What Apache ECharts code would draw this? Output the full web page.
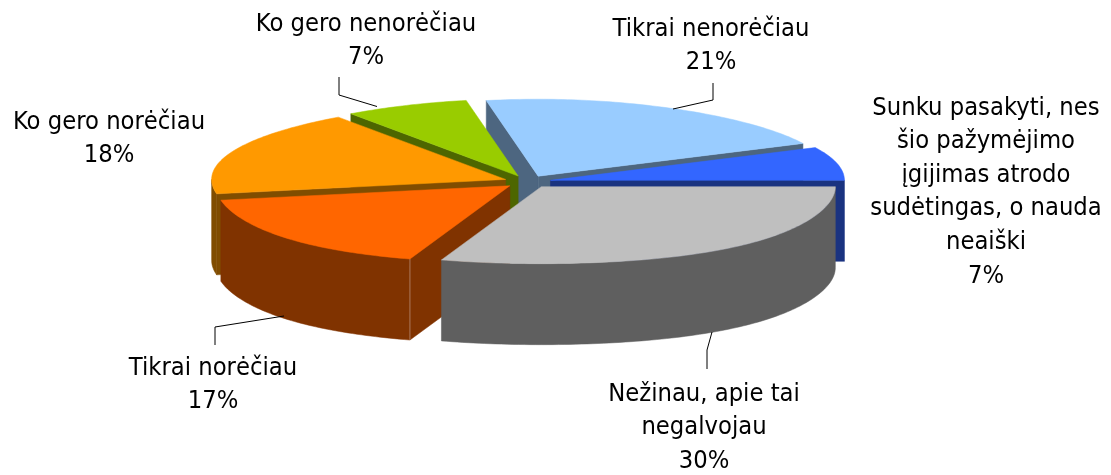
<!DOCTYPE html>
<html><head><meta charset="utf-8">
<style>html,body{margin:0;padding:0;background:#fff}#c{width:1111px;height:475px}</style>
<script src="https://cdn.jsdelivr.net/npm/echarts@6/dist/echarts.min.js"></script>
</head><body><div id="c"></div>
<script>
// Data: clockwise from the east point of the pie
const categories = ['Nežinau, apie tai\nnegalvojau', 'Tikrai norėčiau', 'Ko gero norėčiau', 'Ko gero nenorėčiau', 'Tikrai nenorėčiau', 'Sunku pasakyti, nes\nšio pažymėjimo\nįgijimas atrodo\nsudėtingas, o nauda\nneaiški'];
const values = [30, 17, 18, 7, 21, 7];
const topColors = ['#BFBFBF', '#FF6600', '#FF9900', '#99CC00', '#99CCFF', '#3366FF'];
const sideColors = ['#5F5F5F', '#803300', '#804D00', '#4D6600', '#4D6680', '#1A3380'];
const paintOrder = [4, 3, 2, 5, 1, 0]; // back to front
// Label layout: centre x, first-line centre y, leader polyline
const labelLayout = [
  { x: 704, y: 394, leader: [[712, 332], [707, 350], [707, 369]] },
  { x: 213, y: 368, leader: [[284, 316], [215, 327], [215, 345]] },
  { x: 109, y: 122, leader: null },
  { x: 366, y: 24, leader: [[377, 106.5], [339, 95], [339, 77]] },
  { x: 711, y: 29, leader: [[673, 109], [713, 100], [713, 83]] },
  { x: 986, y: 108, leader: null }
];
const FONT = '"DejaVu Sans Condensed","DejaVu Sans",sans-serif';
const FONT_SIZE = 25.3, LINE_H = 33.6;
const CX = 527.5, CY = 181.7, RX = 294, RY = 77, DEPTH = 81, EXPLODE = 0.08, START = 90;
const total = values.reduce((a, b) => a + b, 0);
const rad = d => d * Math.PI / 180;

function rim(deg) {
  const s = Math.sin(rad(deg)), c = Math.cos(rad(deg));
  const k = c < 0 ? 0.116 : 0.06;            // slight perspective
  return [RX * s * (1 - k * c * c * c), -RY * c];
}
function arcPoints(o, a0, a1, dy) {
  const pts = [], n = Math.max(2, Math.ceil(Math.abs(a1 - a0)));
  for (let i = 0; i <= n; i++) {
    const p = rim(a0 + (a1 - a0) * i / n);
    pts.push([o[0] + p[0], o[1] + p[1] + dy]);
  }
  return pts;
}
function poly(points, fill, z2) {
  return { type: 'polygon', shape: { points }, style: { fill, stroke: fill, lineWidth: 0.5 }, z2 };
}
function renderSlice(params, api) {
  const i = params.dataIndex, v = api.value(0);
  let before = 0;
  for (let j = 0; j < i; j++) before += values[j];
  const a0 = START + before / total * 360, a1 = a0 + v / total * 360, mid = rad((a0 + a1) / 2);
  const o = [CX + EXPLODE * RX * Math.sin(mid), CY - EXPLODE * RY * Math.cos(mid)];
  const z = paintOrder.indexOf(i) * 10;
  const side = sideColors[i], kids = [];
  const drop = p => [p[0], p[1] + DEPTH];
  const n0 = ((a0 % 360) + 360) % 360, n1 = ((a1 % 360) + 360) % 360;
  const edge = a => { const p = rim(a); return [o[0] + p[0], o[1] + p[1]]; };
  if (n0 > 180) kids.push(poly([o, edge(a0), drop(edge(a0)), drop(o)], side, z));
  if (n1 > 0 && n1 < 180) kids.push(poly([o, edge(a1), drop(edge(a1)), drop(o)], side, z));
  const w0 = Math.max(a0, 90), w1 = Math.min(a1, 270);
  if (w1 > w0) kids.push(poly(arcPoints(o, w0, w1, 0).concat(arcPoints(o, w1, w0, DEPTH)), side, z + 1));
  if (i === 1) {
    const e = edge(a0);
    kids.push({ type: 'line', shape: { x1: e[0], y1: e[1], x2: e[0], y2: e[1] + DEPTH }, style: { stroke: '#A9785A', lineWidth: 1 }, z2: z + 2 });
  }
  kids.push(poly([o].concat(arcPoints(o, a0, a1, 0)), topColors[i], z + 3));
  const L = labelLayout[i];
  if (L.leader) kids.push({ type: 'polyline', shape: { points: L.leader }, style: { stroke: '#000', lineWidth: 1, fill: null }, z2: 100 });
  kids.push({
    type: 'text', z2: 101,
    style: {
      x: L.x, y: L.y - LINE_H / 2,
      text: categories[i] + '\n' + v + '%',
      font: FONT_SIZE + 'px ' + FONT, fill: '#000',
      align: 'center', verticalAlign: 'top', lineHeight: LINE_H
    }
  });
  return { type: 'group', children: kids };
}
const chart = echarts.init(document.getElementById('c'), null, { renderer: 'canvas', width: 1111, height: 475 });
chart.setOption({
  backgroundColor: '#fff',
  animation: false,
  series: [{
    type: 'custom',
    coordinateSystem: 'none',
    renderItem: renderSlice,
    data: values.map((v, i) => ({ name: categories[i], value: [v] })),
    silent: true
  }]
});
</script></body></html>
